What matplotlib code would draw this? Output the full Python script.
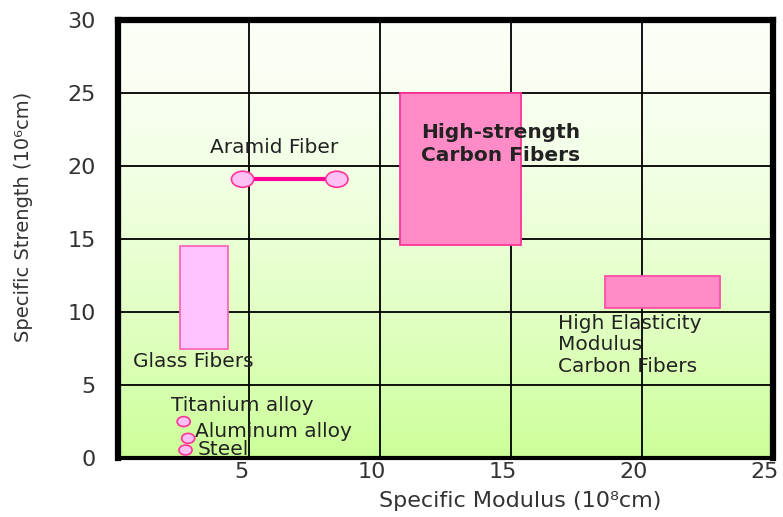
import numpy as np
import matplotlib
matplotlib.use("Agg")
import matplotlib.pyplot as plt
from matplotlib.patches import Rectangle, Ellipse
from matplotlib.transforms import ScaledTranslation

plt.rcParams['font.family'] = ['DejaVu Sans']

# fiber ranges: specific modulus (x) and specific strength (y)
fiber_names = ["Glass Fibers", "High-strength\nCarbon Fibers", "High Elasticity\nModulus\nCarbon Fibers"]
fiber_x0 = [2.35, 10.75, 18.6]
fiber_x1 = [4.2, 15.4, 23.0]
fiber_y0 = [7.5, 14.6, 10.3]
fiber_y1 = [14.5, 25.0, 12.5]

# aramid fiber endpoints
aramid_x = [4.75, 8.35]
aramid_y = [19.1, 19.1]

# metals
metal_names = ["Titanium alloy", "Aluminum alloy", "Steel"]
metal_x = [2.5, 2.67, 2.57]
metal_y = [2.5, 1.35, 0.55]

x_ticks = [5, 10, 15, 20, 25]
y_ticks = [0, 5, 10, 15, 20, 25, 30]

fig = plt.figure(figsize=(7.83, 5.17), dpi=100)
ax = fig.add_axes([0.151, 0.114, 0.836, 0.847])

# gradient background, whitish at top to light green at bottom
top = np.array([0.985, 1.0, 0.97])
bot = np.array([0.80, 1.0, 0.60])
t = (np.linspace(0, 1, 256) ** 1.5)[:, None]
grad = (top * (1 - t) + bot * t)[:, None, :]
ax.imshow(grad, extent=[0, 25, 0, 30], origin='upper', aspect='auto', zorder=0)
ax.set_xlim(0, 25)
ax.set_ylim(0, 30)

for v in [5, 10, 15, 20]:
    ax.axvline(v, color='black', lw=1.3, zorder=1)
for v in [5, 10, 15, 20, 25]:
    ax.axhline(v, color='black', lw=1.3, zorder=1)

fills = ['#ffc4ff', '#ff8cc6', '#ff8cc6']
edges = ['#ff66bb', '#ff3399', '#ff4da6']
for i in range(3):
    ax.add_patch(Rectangle((fiber_x0[i], fiber_y0[i]), fiber_x1[i] - fiber_x0[i],
                           fiber_y1[i] - fiber_y0[i], facecolor=fills[i],
                           edgecolor=edges[i], lw=1.3, zorder=2))

ax.plot(aramid_x, aramid_y, color='#ff0099', lw=3, zorder=2)
for x, y in zip(aramid_x, aramid_y):
    ax.add_patch(Ellipse((x, y), 0.85, 1.1, facecolor='#ffc0f4', edgecolor='#ff3399',
                         lw=1.2, zorder=3))
for x, y in zip(metal_x, metal_y):
    ax.add_patch(Ellipse((x, y), 0.5, 0.68, facecolor='#ffc0f4', edgecolor='#ff3399',
                         lw=1.2, zorder=3))

fs = 14.5
tc = '#222222'
ax.text(3.5, 21.3, "Aramid Fiber", fontsize=fs, va='center', ha='left', color=tc, zorder=4)
ax.text(14.6, 21.5, fiber_names[1], fontsize=fs, fontweight='bold', va='center',
        ha='center', color=tc, linespacing=1.3, zorder=4)
ax.text(0.55, 6.6, fiber_names[0], fontsize=fs, va='center', ha='left', color=tc, zorder=4)
ax.text(16.8, 7.75, fiber_names[2], fontsize=fs, va='center', ha='left',
        linespacing=1.15, color=tc, zorder=4)
ax.text(2.0, 3.6, metal_names[0], fontsize=fs, va='center', ha='left', color=tc, zorder=4)
ax.text(2.95, 1.85, metal_names[1], fontsize=fs, va='center', ha='left', color=tc, zorder=4)
ax.text(3.05, 0.6, metal_names[2], fontsize=fs, va='center', ha='left', color=tc, zorder=4)

ax.set_xticks(x_ticks)
ax.set_yticks(y_ticks)
ax.tick_params(length=0, labelsize=16, colors='#333333')
ax.tick_params(axis='y', pad=16)
ax.tick_params(axis='x', pad=3)
for lab in ax.get_xticklabels():
    lab.set_transform(lab.get_transform() + ScaledTranslation(-0.08, 0, fig.dpi_scale_trans))
for s in ax.spines.values():
    s.set_linewidth(4.5)
    s.set_color('black')
ax.spines['bottom'].set_linewidth(3)

ax.set_xlabel("Specific Modulus (10⁸cm)", fontsize=16, color='#333333')
ax.set_ylabel("Specific Strength (10⁶cm)", fontsize=14, color='#333333')
ax.xaxis.set_label_coords(0.614, -0.076)
ax.yaxis.set_label_coords(-0.13, 0.55)

fig.savefig("out.png", dpi=100)
